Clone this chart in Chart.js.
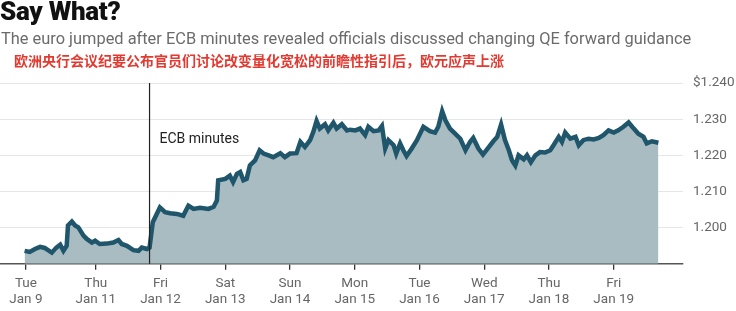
<!DOCTYPE html>
<html>
<head>
<meta charset="utf-8">
<script src="https://cdn.jsdelivr.net/npm/chart.js@4.4.1/dist/chart.umd.min.js"></script>
<style>
  body { margin: 0; background: #fff; width: 736px; height: 311px; overflow: hidden; position: relative; font-family: Roboto, "Liberation Sans", sans-serif; }
  #title { position: absolute; left: 0; top: -4px; font-size: 26px; font-weight: 900; color: #111; letter-spacing: -0.3px; }
  #subtitle { position: absolute; left: 1px; top: 29px; font-size: 16.4px; color: #6b6b6b; white-space: nowrap; }
  #cnnote { position: absolute; left: 14px; top: 50px; font-size: 14px; font-weight: bold; color: #e23a30; font-family: "Noto Sans CJK SC", sans-serif; white-space: nowrap; }
  #wrap { position: absolute; left: 0; top: 0; width: 736px; height: 311px; }
</style>
</head>
<body>
<div id="wrap"><canvas id="my-chart" width="736" height="311"></canvas></div>
<div id="title">Say What?</div>
<div id="subtitle">The euro jumped after ECB minutes revealed officials discussed changing QE forward guidance</div>
<div id="cnnote">欧洲央行会议纪要公布官员们讨论改变量化宽松的前瞻性指引后，欧元应声上涨</div>
<script>
// x positions in "tick units" (Tue Jan 9 = 0)
var posX = [-0.02,0.06,0.14,0.22,0.29,0.40,0.47,0.53,0.58,0.63,0.65,0.71,0.76,0.81,0.89,0.94,1.02,1.07,1.14,1.25,
  1.35,1.43,1.48,1.56,1.66,1.74,1.79,1.87,1.91,1.96,2.07,2.15,2.23,2.33,2.43,2.51,2.59,2.69,2.82,2.90,
  2.95,2.97,3.08,3.15,3.20,3.26,3.31,3.36,3.41,3.46,3.54,3.61,3.67,3.75,3.82,3.93,4.00,4.08,4.18,4.24,
  4.31,4.39,4.44,4.49,4.54,4.62,4.67,4.75,4.80,4.88,4.96,5.01,5.09,5.16,5.24,5.29,5.37,5.45,5.50,5.55,
  5.60,5.68,5.72,5.78,5.83,5.88,5.96,6.04,6.14,6.24,6.32,6.37,6.43,6.48,6.55,6.63,6.71,6.79,6.86,6.91,
  6.99,7.06,7.15,7.22,7.28,7.34,7.40,7.46,7.51,7.56,7.61,7.69,7.74,7.80,7.87,7.94,8.02,8.10,8.15,8.23,
  8.28,8.33,8.41,8.49,8.54,8.61,8.69,8.77,8.85,8.92,9.00,9.08,9.15,9.23,9.31,9.39,9.46,9.54,9.59,9.67,9.77];
// EUR/USD
var eurusd = [1.1936,1.1933,1.1941,1.1947,1.1944,1.1931,1.1945,1.1953,1.1936,1.1950,1.2006,1.2017,1.2006,1.2001,1.1978,1.1969,1.1959,1.1964,1.1955,1.1956,
  1.1959,1.1966,1.1955,1.1950,1.1938,1.1936,1.1945,1.1941,1.1945,1.2015,1.2056,1.2043,1.2040,1.2038,1.2033,1.2061,1.2052,1.2055,1.2052,1.2058,
  1.2075,1.2131,1.2135,1.2144,1.2126,1.2149,1.2154,1.2131,1.2135,1.2172,1.2186,1.2214,1.2205,1.2200,1.2195,1.2206,1.2195,1.2205,1.2206,1.2237,
  1.2223,1.2242,1.2265,1.2295,1.2274,1.2286,1.2269,1.2290,1.2274,1.2286,1.2269,1.2271,1.2269,1.2274,1.2256,1.2279,1.2267,1.2269,1.2281,1.2219,
  1.2242,1.2228,1.2205,1.2233,1.2214,1.2198,1.2219,1.2242,1.2279,1.2267,1.2263,1.2279,1.2322,1.2297,1.2274,1.2260,1.2246,1.2214,1.2237,1.2248,
  1.2219,1.2202,1.2223,1.2239,1.2251,1.2285,1.2242,1.2214,1.2186,1.2172,1.2200,1.2189,1.2200,1.2181,1.2200,1.2209,1.2208,1.2214,1.2228,1.2251,
  1.2237,1.2263,1.2246,1.2251,1.2228,1.2242,1.2246,1.2244,1.2248,1.2256,1.2269,1.2263,1.2269,1.2279,1.2291,1.2274,1.2260,1.2251,1.2233,1.2239,1.2235];

var tickPos = [0, 1.08, 2.08, 3.08, 4.08, 5.08, 6.08, 7.08, 8.08, 9.08];
var tickLabels = [['Tue','Jan 9'],['Thu','Jan 11'],['Fri','Jan 12'],['Sat','Jan 13'],['Sun','Jan 14'],
                  ['Mon','Jan 15'],['Tue','Jan 16'],['Wed','Jan 17'],['Thu','Jan 18'],['Fri','Jan 19']];
var ecbPos = 1.91;
var ecbText = 'ECB minutes';

var points = posX.map(function(x, i){ return {x: x, y: eurusd[i]}; });

// vertical marker for the ECB minutes release
var ecbMarker = {
  id: 'ecbMarker',
  afterDatasetsDraw: function(chart){
    var ctx = chart.ctx, x = chart.scales.x.getPixelForValue(ecbPos);
    var area = chart.chartArea;
    ctx.save();
    ctx.strokeStyle = '#222';
    ctx.lineWidth = 1.2;
    ctx.beginPath();
    ctx.moveTo(x, area.top);
    ctx.lineTo(x, area.bottom);
    ctx.stroke();
    ctx.fillStyle = '#222';
    ctx.font = '14px Roboto, "Liberation Sans", sans-serif';
    ctx.textBaseline = 'middle';
    ctx.fillText(ecbText, x + 10, chart.scales.y.getPixelForValue(1.2245));
    ctx.restore();
  }
};

var ctx = document.getElementById('my-chart').getContext('2d');
var chart = new Chart(ctx, {
  type: 'line',
  data: {
    datasets: [{
      data: points,
      borderColor: '#1f566b',
      borderWidth: 4.5,
      backgroundColor: '#a9bcc2',
      fill: 'start',
      pointRadius: 0,
      tension: 0
    }]
  },
  options: {
    responsive: false,
    animation: false,
    layout: { padding: { top: 83, left: 0, right: 0, bottom: -3 } },
    plugins: { legend: { display: false }, tooltip: { enabled: false } },
    scales: {
      x: {
        type: 'linear',
        min: -0.40,
        max: 10.15,
        afterBuildTicks: function(axis){ axis.ticks = tickPos.map(function(v){ return {value: v}; }); },
        ticks: {
          autoSkip: false, maxRotation: 0, padding: 6,
          color: '#666',
          font: { family: 'Roboto, "Liberation Sans", sans-serif', size: 13.5, lineHeight: 1.19 },
          callback: function(value, index){ return tickLabels[index]; }
        },
        grid: { drawOnChartArea: false, drawTicks: true, tickLength: 6, color: '#333', lineWidth: 1.3 },
        border: { display: true, color: '#555', width: 1.5 }
      },
      y: {
        position: 'right',
        min: 1.19,
        max: 1.24,
        afterFit: function(axis){ axis.width = 53; },
        ticks: {
          stepSize: 0.005,
          padding: 10,
          color: '#666',
          font: { family: 'Roboto, "Liberation Sans", sans-serif', size: 13.5 },
          callback: function(value){
            var m = Math.round(value * 1000);
            if (m % 10 !== 0 || m === 1190) return '';
            var s = (m / 1000).toFixed(3);
            return m === 1240 ? '$' + s : s;
          }
        },
        grid: { drawTicks: false, color: '#e6e6e6', lineWidth: 1 },
        border: { display: false }
      }
    }
  },
  plugins: [ecbMarker]
});
</script>
</body>
</html>
